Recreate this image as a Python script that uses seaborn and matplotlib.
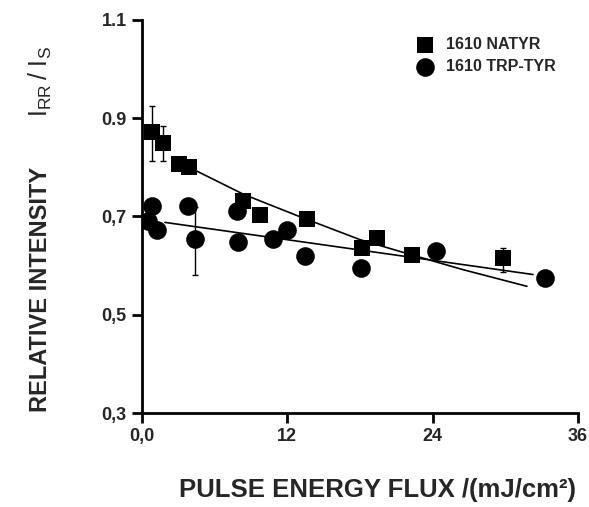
import numpy as np
import pandas as pd
import matplotlib
matplotlib.use("Agg")
import matplotlib.pyplot as plt
import seaborn as sns

# data
natyr_x = [0.8, 1.76, 3.06, 3.9, 8.37, 9.75, 13.66, 18.16, 19.4, 22.34, 29.78]
natyr_y = [0.871, 0.850, 0.806, 0.800, 0.731, 0.704, 0.694, 0.636, 0.657, 0.622, 0.616]
trp_x = [0.52, 0.8, 1.26, 3.83, 4.38, 7.82, 7.96, 10.85, 11.96, 13.47, 18.1, 24.27, 33.25]
trp_y = [0.690, 0.721, 0.672, 0.721, 0.655, 0.711, 0.648, 0.655, 0.672, 0.620, 0.595, 0.629, 0.575]

# error bars (x, y, low, high)
natyr_err_x = [0.8, 1.76, 29.78]
natyr_err_lo = [0.813, 0.813, 0.588]
natyr_err_hi = [0.925, 0.884, 0.636]
trp_err_x = [4.38]
trp_err_lo = [0.582]
trp_err_hi = [0.720]

# fitted curves
natyr_fit_x = [3.9, 8.4, 13.0, 18.0, 21.3, 26.5, 31.8]
natyr_fit_y = [0.800, 0.745, 0.700, 0.653, 0.629, 0.592, 0.558]
trp_fit_x = [1.9, 32.3]
trp_fit_y = [0.688, 0.582]

xticks = [0, 12, 24, 36]
xtick_labels = ["0,0", "12", "24", "36"]
yticks = [0.3, 0.5, 0.7, 0.9, 1.1]
ytick_labels = ["0,3", "0,5", "0,7", "0.9", "1.1"]

sns.set_style("ticks")
plt.rcParams["font.family"] = ["Liberation Sans", "DejaVu Sans"]

fig = plt.figure(figsize=(5.89, 5.07), dpi=100)
ax = fig.add_axes([0.241, 0.185, 0.740, 0.776])

df_n = pd.DataFrame({"x": natyr_x, "y": natyr_y})
df_t = pd.DataFrame({"x": trp_x, "y": trp_y})

ax.plot(natyr_fit_x, natyr_fit_y, color="black", lw=1.2, zorder=1)
ax.plot(trp_fit_x, trp_fit_y, color="black", lw=1.2, zorder=1)

# error bars
for xs, lo, hi in [(natyr_err_x, natyr_err_lo, natyr_err_hi), (trp_err_x, trp_err_lo, trp_err_hi)]:
    for xv, l, h in zip(xs, lo, hi):
        ax.errorbar([xv], [(l + h) / 2], yerr=[[(h - l) / 2], [(h - l) / 2]], fmt="none",
                    ecolor="black", elinewidth=1, capsize=2.5, capthick=1, zorder=1)

sns.scatterplot(data=df_n, x="x", y="y", marker="s", s=121, color="black",
                edgecolor="black", linewidth=0, ax=ax, label="1610 NATYR", zorder=3)
sns.scatterplot(data=df_t, x="x", y="y", marker="o", s=180, color="black",
                edgecolor="black", linewidth=0, ax=ax, label="1610 TRP-TYR", zorder=3)

ax.set_xlim(0, 36)
ax.set_ylim(0.3, 1.1)
ax.set_xticks(xticks)
ax.set_xticklabels(xtick_labels, fontsize=13, fontweight="bold")
ax.set_yticks(yticks)
ax.set_yticklabels(ytick_labels, fontsize=13, fontweight="bold")
ax.tick_params(axis="both", direction="out", length=7, width=2, color="black", pad=4)

for s in ["top", "right"]:
    ax.spines[s].set_visible(False)
for s in ["left", "bottom"]:
    ax.spines[s].set_linewidth(2)
    ax.spines[s].set_color("black")

ax.set_xlabel("PULSE ENERGY FLUX /(mJ/cm²)", fontsize=18.5, fontweight="bold")
ax.xaxis.set_label_coords(0.54, -0.165)
ax.set_ylabel("")

fig.text(0.068, 0.43, "RELATIVE INTENSITY", rotation=90, fontsize=17, fontweight="bold",
         ha="center", va="center")
fig.text(0.068, 0.84, r"$\mathregular{I_{RR}\,/\;I_S}$", rotation=90, fontsize=18,
         ha="center", va="center")

leg = ax.legend(loc="upper right", bbox_to_anchor=(0.975, 0.985), frameon=False,
                prop={"weight": "bold", "size": 11.5}, handletextpad=0.3,
                labelspacing=0.45, borderaxespad=0.3)

fig.savefig("out.png", dpi=100)
